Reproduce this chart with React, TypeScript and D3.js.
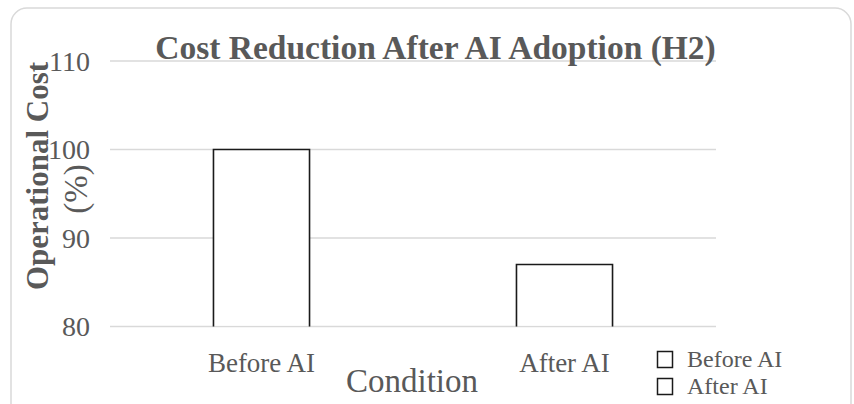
import * as d3 from "d3";

// chart data
const categories = ["Before AI", "After AI"];
const costValues = [100, 87];
const yTicks = [80, 90, 100, 110];
const legendLabels = ["Before AI", "After AI"];

const W = 854;
const H = 404;
const plotLeft = 110;
const plotRight = 716;
const serif = "'Liberation Serif', 'Times New Roman', serif";
const textColor = "#595959";
const gridColor = "#d9d9d9";

export default function App() {
  const x = d3
    .scaleBand<string>()
    .domain(categories)
    .range([plotLeft, plotRight])
    .paddingInner(0.683)
    .paddingOuter(0.3415);

  const y = d3.scaleLinear().domain([80, 110]).range([326.5, 61]);

  // bars with open bottom: the baseline gridline shows there
  const barPath = (cat: string, v: number) => {
    const x0 = x(cat)!;
    const x1 = x0 + x.bandwidth();
    const p = d3.path();
    p.moveTo(x0, y(80));
    p.lineTo(x0, y(v));
    p.lineTo(x1, y(v));
    p.lineTo(x1, y(80));
    return p.toString();
  };

  return (
    <svg
      width={W}
      height={H}
      style={{ position: "absolute", left: 0, top: 0, background: "#fff", fontFamily: serif }}
    >
      <rect x={11} y={8} width={840} height={430} rx={16} fill="#fff" stroke={gridColor} strokeWidth={1.5} />

      {/* gridlines */}
      <g>
        {yTicks.map((t) => (
          <line key={t} x1={plotLeft} x2={plotRight} y1={y(t)} y2={y(t)} stroke={gridColor} strokeWidth={1.5} />
        ))}
      </g>

      {/* y tick labels */}
      <g fill={textColor} fontSize={28} textAnchor="end">
        {yTicks.map((t) => (
          <text key={t} x={90} y={y(t)} dy="0.34em">
            {t}
          </text>
        ))}
      </g>

      {/* bars */}
      <g>
        {categories.map((c, i) => (
          <g key={c}>
            <rect x={x(c)} y={y(costValues[i])} width={x.bandwidth()} height={y(80) - y(costValues[i]) - 1} fill="#fff" />
            <path d={barPath(c, costValues[i])} fill="none" stroke="#1a1a1a" strokeWidth={1.6} />
          </g>
        ))}
      </g>

      {/* category labels */}
      <g fill={textColor} fontSize={27} textAnchor="middle">
        {categories.map((c) => (
          <text key={c} x={x(c)! + x.bandwidth() / 2} y={372}>
            {c}
          </text>
        ))}
      </g>

      {/* title */}
      <text x={435.5} y={59} textAnchor="middle" fontSize={33.5} fontWeight="bold" fill={textColor}>
        Cost Reduction After AI Adoption (H2)
      </text>

      {/* x axis title */}
      <text x={412} y={392} textAnchor="middle" fontSize={33} fill={textColor}>
        Condition
      </text>

      {/* y axis title */}
      <text transform="translate(48,176) rotate(-90)" textAnchor="middle" fontSize={31} fontWeight="bold" fill={textColor}>
        Operational Cost
      </text>
      <text transform="translate(87,189) rotate(-90)" textAnchor="middle" fontSize={33} fill={textColor}>
        (%)
      </text>

      {/* legend */}
      <g>
        {legendLabels.map((l, i) => (
          <g key={l} transform={`translate(657,${351 + i * 27})`}>
            <rect x={0.5} y={0.5} width={15} height={16} fill="#fff" stroke="#1a1a1a" strokeWidth={1.5} />
            <text x={30} y={16} fontSize={24} fill={textColor}>
              {l}
            </text>
          </g>
        ))}
      </g>
    </svg>
  );
}
